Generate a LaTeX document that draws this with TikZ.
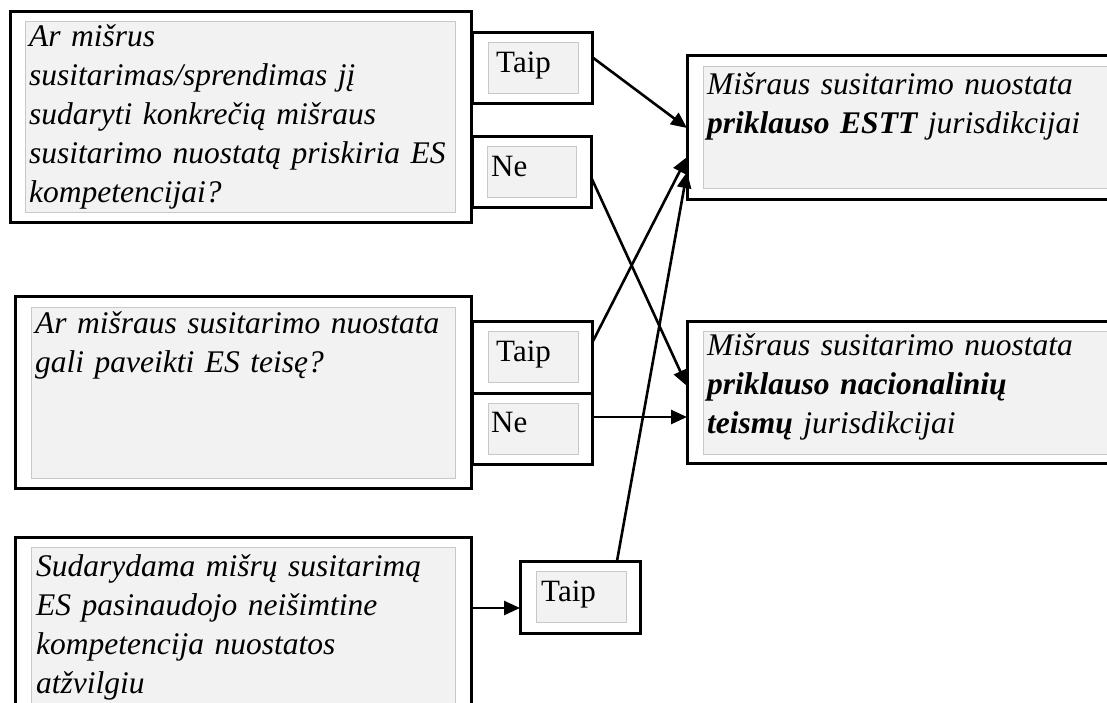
\documentclass[tikz,border=0pt]{standalone}
\usepackage{fontspec}
\setmainfont{Liberation Serif}
\usetikzlibrary{arrows.meta,calc}
\definecolor{panelfill}{HTML}{F2F2F2}
\definecolor{panelline}{HTML}{C8C8C8}
\begin{document}
\begin{tikzpicture}[x=1pt,y=-1pt,
  outerbox/.style={draw=black, line width=3pt, anchor=north west, inner sep=0pt, outer sep=0pt},
  panel/.style={fill=panelfill, draw=panelline, line width=1pt, anchor=north west, inner sep=0pt, outer sep=0pt},
  qtext/.style={anchor=base west, inner sep=0pt, align=left, text width=440pt, font=\fontsize{31.5}{39}\selectfont\itshape},
  ans/.style={anchor=base west, inner sep=0pt, font=\fontsize{31}{36}\selectfont},
  arr/.style={-{Triangle[length=16pt,width=14pt]}, line width=2.6pt}]
\useasboundingbox (0,0) rectangle (1107,703);
\fill[white] (0,0) rectangle (1107,703);

% question 1
\node[outerbox, minimum width=461pt, minimum height=211pt] (q1) at (10,12) {};
\node[panel, minimum width=430pt, minimum height=191pt] (q1p) at (25,22) {};
\node[qtext] (q1t) at (29,47) {Ar mišrus\\susitarimas/sprendimas jį\\sudaryti konkrečią mišraus\\susitarimo nuostatą priskiria ES\\kompetencijai?};

\node[outerbox, minimum width=120pt, minimum height=71pt] (t1) at (472,33) {};
\node[panel, minimum width=90pt, minimum height=51pt] (t1p) at (488,43) {};
\node[ans] (t1t) at (496,73) {Taip};

\node[outerbox, minimum width=119pt, minimum height=71pt] (n1) at (472,137) {};
\node[panel, minimum width=89pt, minimum height=51pt] (n1p) at (487,147) {};
\node[ans] (n1t) at (491,177) {Ne};

% result 1
\node[outerbox, minimum width=428pt, minimum height=144pt] (r1) at (687,56) {};
\node[panel, minimum width=420pt, minimum height=122pt] (r1p) at (703,67) {};
\node[qtext, text width=400pt] (r1t) at (707,95) {Mišraus susitarimo nuostata\\\textbf{priklauso ESTT} jurisdikcijai};

% question 2
\node[outerbox, minimum width=456pt, minimum height=192pt] (q2) at (15,296) {};
\node[panel, minimum width=424pt, minimum height=171pt] (q2p) at (31,307) {};
\node[qtext] (q2t) at (35,333) {Ar mišraus susitarimo nuostata\\gali paveikti ES teisę?};

\node[outerbox, minimum width=120pt, minimum height=72pt] (t2) at (472,321) {};
\node[panel, minimum width=90pt, minimum height=51pt] (t2p) at (488,331) {};
\node[ans] (t2t) at (496,361) {Taip};

\node[outerbox, minimum width=120pt, minimum height=71pt] (n2) at (472,393) {};
\node[panel, minimum width=90pt, minimum height=51pt] (n2p) at (488,403) {};
\node[ans] (n2t) at (491,432) {Ne};

% result 2
\node[outerbox, minimum width=428pt, minimum height=142pt] (r2) at (687,321) {};
\node[panel, minimum width=420pt, minimum height=123pt] (r2p) at (703,331) {};
\node[qtext, text width=400pt] (r2t) at (707,355) {Mišraus susitarimo nuostata\\\textbf{priklauso nacionalinių}\\\textbf{teismų} jurisdikcijai};

% question 3
\node[outerbox, minimum width=456pt, minimum height=200pt] (q3) at (15,537) {};
\node[panel, minimum width=424pt, minimum height=200pt] (q3p) at (31,547) {};
\node[qtext] (q3t) at (36,576) {Sudarydama mišrų susitarimą\\ES pasinaudojo neišimtine\\kompetencija nuostatos\\atžvilgiu};

\node[outerbox, minimum width=120pt, minimum height=72pt] (t3) at (520,561) {};
\node[panel, minimum width=90pt, minimum height=51pt] (t3p) at (536,571) {};
\node[ans] (t3t) at (541,601) {Taip};

% connectors
\draw[arr] ($(t1.north east)+(0,24)$) -- ($(r1.north west)+(0,72)$);
\draw[arr] ($(n1.north east)+(0,40)$) -- ($(r2.north west)+(0,65)$);
\draw[arr] ($(t2.north east)+(0,22)$) -- ($(r1.north west)+(0,101)$);
\draw[arr] ($(n2.north east)+(0,24)$) -- ($(r2.north west)+(0,96)$);
\draw[arr] ($(q3.north east)+(0,71)$) -- ($(t3.north west)+(0,47)$);
\draw[arr] ($(t3.north west)+(97,0)$) -- ($(r1.north west)+(0,116)$);
\end{tikzpicture}
\end{document}
